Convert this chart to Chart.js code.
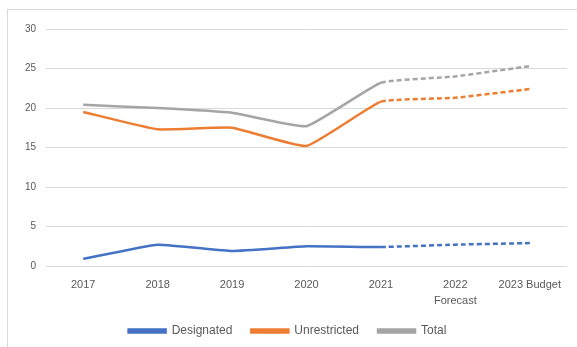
<!DOCTYPE html>
<html>
<head>
<meta charset="utf-8">
<script src="https://cdn.jsdelivr.net/npm/chart.js@4/dist/chart.umd.min.js"></script>
<style>
  html, body { margin: 0; padding: 0; background: #fff; overflow: hidden; }
  #frame { position: absolute; left: 7px; top: 9px; width: 640px; height: 400px; border: 1px solid #d9d9d9; box-sizing: border-box; }
  #wrap { position: absolute; left: 0; top: 0; width: 577px; height: 347px; }
</style>
</head>
<body>
<div id="frame"></div>
<div id="wrap"><canvas id="c" width="577" height="347"></canvas></div>
<script>
const categories = [["2017"], ["2018"], ["2019"], ["2020"], ["2021"], ["2022", "Forecast"], ["2023 Budget"]];
const designated = [0.9, 2.7, 1.9, 2.5, 2.4, 2.7, 2.9];
const unrestricted = [19.5, 17.3, 17.5, 15.2, 20.8, 21.3, 22.4];
const total = [20.4, 20.0, 19.4, 17.7, 23.2, 24.0, 25.3];
const yTicks = [0, 5, 10, 15, 20, 25, 30];
const forecastStart = 4;

function ds(label, data, color) {
  return {
    label, data,
    borderColor: color, backgroundColor: color,
    borderWidth: 2.5, pointRadius: 0, tension: 0.12,
    segment: { borderDash: ctx => ctx.p0DataIndex >= forecastStart ? [5, 3] : undefined }
  };
}

new Chart(document.getElementById('c'), {
  type: 'line',
  data: {
    labels: categories,
    datasets: [
      ds('Designated', designated, '#4472C4'),
      ds('Unrestricted', unrestricted, '#ED7D31'),
      ds('Total', total, '#A5A5A5')
    ]
  },
  options: {
    responsive: false,
    animation: false,
    layout: { padding: { left: 8, right: 10, top: 29, bottom: 0 } },
    plugins: {
      tooltip: { enabled: false },
      legend: {
        position: 'bottom',
        labels: {
          boxWidth: 37, boxHeight: 3, padding: 19,
          color: '#595959', font: { family: 'Liberation Sans', size: 12 }
        }
      }
    },
    scales: {
      x: {
        offset: true,
        grid: { display: false },
        border: { display: false },
        afterFit: s => { s.height = 40; },
        ticks: { color: '#595959', font: { family: 'Liberation Sans', size: 11, lineHeight: 1.45 }, maxRotation: 0, padding: 3 }
      },
      y: {
        min: 0, max: 30,
        afterBuildTicks: s => { s.ticks = yTicks.map(v => ({ value: v })); },
        afterFit: s => { s.width = 38; },
        grid: { color: '#d9d9d9', drawTicks: false },
        border: { display: false },
        ticks: { color: '#595959', font: { family: 'Liberation Sans', size: 10 }, padding: 10 }
      }
    }
  }
});
</script>
</body>
</html>
